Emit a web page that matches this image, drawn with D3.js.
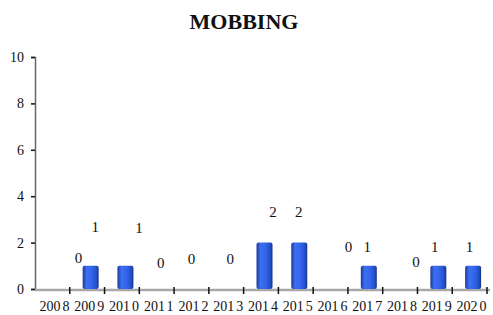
<!DOCTYPE html>
<html>
<head>
<meta charset="utf-8">
<script src="https://cdn.jsdelivr.net/npm/d3@7"></script>
<style>
  body { margin: 0; background: white; }
</style>
</head>
<body>
<div id="chart"></div>
<script>
const years = ['2008','2009','2010','2011','2012','2013','2014','2015','2016','2017','2018','2019','2020'];
const counts = [0, 1, 1, 0, 0, 0, 2, 2, 0, 1, 0, 1, 1];
const yTicks = [0, 2, 4, 6, 8, 10];
const title = 'MOBBING';

// the value labels sit a bit off their bars in the original
const labelDx = [26, 8, 17, 4, 0, 4, 12, 3, 18, 2, 16, 0, 0];
const labelDy = [-31, -39, -38, -26, -30, -30, -31, -31, -42, -19, -27, -19, -19];

const serif = '"Liberation Serif", "Times New Roman", serif';
const w = 493;
const h = 315;

const svg = d3.select('#chart')
  .append('svg')
  .attr('width', w)
  .attr('height', h)
  .style('font-family', serif);

const defs = svg.append('defs');
const grad = defs.append('linearGradient')
  .attr('id', 'barfill')
  .attr('x1', '0%').attr('x2', '100%')
  .attr('y1', '0%').attr('y2', '0%');
grad.append('stop').attr('offset', '0%').attr('stop-color', '#1b3a9c');
grad.append('stop').attr('offset', '25%').attr('stop-color', '#3d6ff0');
grad.append('stop').attr('offset', '55%').attr('stop-color', '#3366ee');
grad.append('stop').attr('offset', '85%').attr('stop-color', '#2450c8');
grad.append('stop').attr('offset', '100%').attr('stop-color', '#17328a');

const xScale = d3.scaleBand(years, [35, 487]).padding(0);
const yScale = d3.scaleLinear([0, 10], [289, 57]);
const bw = xScale.bandwidth();

svg.append('text')
  .text(title)
  .attr('x', 244)
  .attr('y', 29)
  .attr('text-anchor', 'middle')
  .style('font-family', serif)
  .style('font-size', '22px')
  .style('font-weight', 'bold')
  .attr('fill', '#111');

// y axis
const yAxis = d3.axisLeft(yScale).tickValues(yTicks).tickSize(4).tickPadding(7);
svg.append('g')
  .attr('transform', 'translate(35,0)')
  .call(yAxis)
  .call(g => g.select('.domain').attr('stroke', '#666').attr('stroke-width', 1.5))
  .call(g => g.selectAll('.tick line').attr('stroke', '#111').attr('stroke-width', 1.5))
  .call(g => g.selectAll('.tick text')
    .style('font-family', serif)
    .style('font-size', '14px')
    .attr('fill', '#111'));

// x axis floor
svg.append('line')
  .attr('x1', 35).attr('x2', 490)
  .attr('y1', yScale(0) + 1).attr('y2', yScale(0) + 1)
  .attr('stroke', '#a8a8a8')
  .attr('stroke-width', 2.5);

const xAxis = d3.axisBottom(xScale).tickSize(0).tickPadding(12);
const xg = svg.append('g')
  .attr('transform', 'translate(0,' + yScale(0) + ')')
  .call(xAxis);
xg.select('.domain').remove();
xg.selectAll('.tick text')
  .style('font-family', serif)
  .style('font-size', '14px')
  .attr('fill', '#111')
  .attr('dx', 2)
  .text(null)
  .each(function(d) {
    const t = d3.select(this);
    t.append('tspan').text(d.slice(0, 3));
    t.append('tspan').attr('dx', 2).text(d.slice(3));
  });

// tick marks between categories
const bounds = years.map(d => xScale(d)).concat([xScale(years[years.length - 1]) + bw]);
svg.append('g')
  .selectAll('line')
  .data(bounds.slice(1))
  .join('line')
  .attr('x1', d => d).attr('x2', d => d)
  .attr('y1', yScale(0) - 2).attr('y2', yScale(0) + 5)
  .attr('stroke', '#111')
  .attr('stroke-width', 1.5);

// bars
const data = years.map((y, i) => ({ year: y, count: counts[i], i: i }));
svg.append('g')
  .selectAll('rect')
  .data(data.filter(d => d.count > 0))
  .join('rect')
  .attr('x', d => xScale(d.year) + bw / 2 - 8 + 3.5)
  .attr('y', d => yScale(d.count))
  .attr('width', 16)
  .attr('height', d => yScale(0) - yScale(d.count))
  .attr('rx', 2)
  .attr('fill', 'url(#barfill)');

// value labels
svg.append('g')
  .selectAll('text')
  .data(data)
  .join('text')
  .attr('x', d => xScale(d.year) + bw / 2 + labelDx[d.i])
  .attr('y', d => yScale(d.count) + labelDy[d.i])
  .attr('dominant-baseline', 'central')
  .attr('text-anchor', 'middle')
  .style('font-family', serif)
  .style('font-size', '15px')
  .attr('fill', '#111')
  .text(d => d.count);
</script>
</body>
</html>
